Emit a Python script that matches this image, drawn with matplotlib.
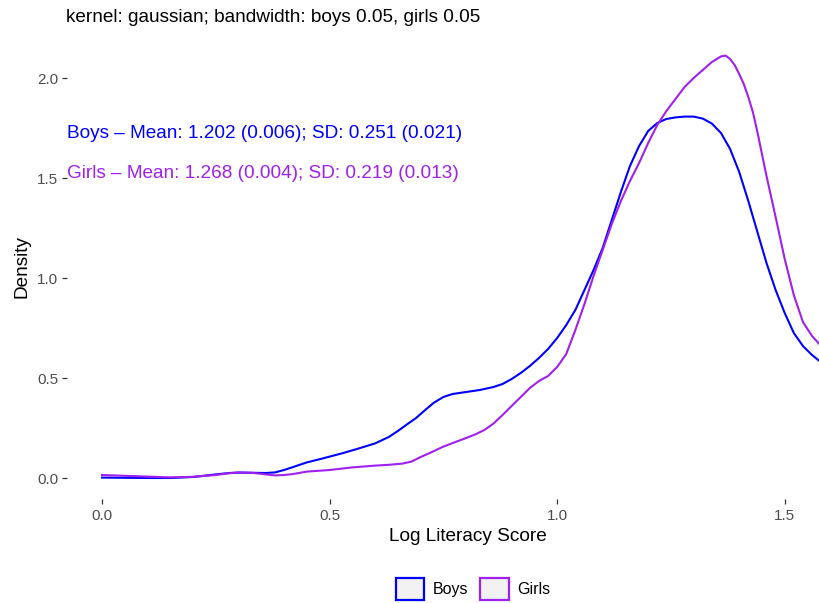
import numpy as np
import matplotlib.pyplot as plt
from matplotlib.patches import Patch

plt.rcParams['font.family'] = ['Liberation Sans', 'DejaVu Sans']

# density curves
boys_x = [0.0, 0.05, 0.1, 0.15, 0.2, 0.25, 0.28, 0.3, 0.33, 0.36, 0.38, 0.40, 0.42, 0.45,
          0.48, 0.5, 0.53, 0.56, 0.6, 0.63, 0.65, 0.67, 0.69, 0.71, 0.73, 0.75, 0.77,
          0.8, 0.83, 0.86, 0.88, 0.9, 0.92, 0.94, 0.96, 0.98, 1.0, 1.02, 1.04, 1.06,
          1.08, 1.1, 1.12, 1.14, 1.16, 1.18, 1.2, 1.22, 1.24, 1.26, 1.28, 1.30, 1.32,
          1.34, 1.36, 1.38, 1.40, 1.42, 1.44, 1.46, 1.48, 1.50, 1.52, 1.54, 1.56,
          1.58, 1.60, 1.62]
boys_y = [0.002, 0.001, 0.0, 0.0, 0.005, 0.018, 0.025, 0.027, 0.026, 0.025, 0.028, 0.04, 0.055, 0.078,
          0.095, 0.107, 0.125, 0.145, 0.173, 0.205, 0.235, 0.268, 0.30, 0.34, 0.378, 0.405, 0.42,
          0.43, 0.44, 0.455, 0.47, 0.495, 0.525, 0.56, 0.60, 0.645, 0.70, 0.765, 0.84, 0.94,
          1.04, 1.15, 1.29, 1.43, 1.56, 1.66, 1.735, 1.775, 1.795, 1.803, 1.807, 1.807, 1.797,
          1.772, 1.725, 1.645, 1.53, 1.385, 1.23, 1.075, 0.94, 0.825, 0.725, 0.66, 0.615,
          0.578, 0.545, 0.51]

girls_x = [0.0, 0.05, 0.1, 0.15, 0.2, 0.25, 0.28, 0.3, 0.33, 0.36, 0.38, 0.40, 0.42, 0.45,
           0.5, 0.55, 0.6, 0.63, 0.66, 0.68, 0.70, 0.72, 0.75, 0.78, 0.8, 0.82, 0.84, 0.86,
           0.88, 0.9, 0.92, 0.94, 0.96, 0.98, 1.0, 1.02, 1.04, 1.06, 1.08, 1.10, 1.12, 1.14,
           1.16, 1.18, 1.20, 1.22, 1.24, 1.26, 1.28, 1.30, 1.32, 1.34, 1.36, 1.37, 1.38,
           1.39, 1.40, 1.41, 1.42, 1.43, 1.44, 1.46, 1.48, 1.50, 1.52, 1.54, 1.56, 1.58,
           1.60, 1.62]
girls_y = [0.015, 0.011, 0.007, 0.003, 0.006, 0.015, 0.024, 0.028, 0.026, 0.018, 0.013, 0.015, 0.02, 0.032,
           0.04, 0.053, 0.062, 0.066, 0.072, 0.082, 0.105, 0.125, 0.157, 0.183, 0.20, 0.218, 0.24, 0.272,
           0.315, 0.36, 0.405, 0.45, 0.485, 0.51, 0.555, 0.62, 0.74, 0.87, 1.01, 1.14, 1.27, 1.385,
           1.485, 1.575, 1.675, 1.765, 1.835, 1.895, 1.955, 2.0, 2.04, 2.08, 2.108, 2.112, 2.095,
           2.065, 2.02, 1.97, 1.905, 1.83, 1.73, 1.51, 1.305, 1.095, 0.915, 0.78, 0.71, 0.66,
           0.615, 0.57]

groups = ['Boys', 'Girls']
colors = ['#0000ff', '#a020f0']
stats = ['Boys \u2013 Mean: 1.202 (0.006); SD: 0.251 (0.021)',
         'Girls \u2013 Mean: 1.268 (0.004); SD: 0.219 (0.013)']
stats_y = [1.72, 1.52]

fig = plt.figure(figsize=(8.2, 6.03), dpi=100)
# panel runs past the right edge of the picture, as in the reference
ax = fig.add_axes([67/820, 1 - 499/603, (868 - 67)/820, (499 - 35)/603])

ax.plot(boys_x, boys_y, color=colors[0], lw=1.5)
ax.plot(girls_x, girls_y, color=colors[1], lw=1.5)

ax.set_xlim(-0.077, 1.683)
ax.set_ylim(-0.105, 2.215)
ax.set_xticks([0.0, 0.5, 1.0, 1.5])
ax.set_yticks([0.0, 0.5, 1.0, 1.5, 2.0])
ax.set_xticklabels(['0.0', '0.5', '1.0', '1.5'])
ax.set_yticklabels(['0.0', '0.5', '1.0', '1.5', '2.0'])
for s in ax.spines.values():
    s.set_visible(False)
ax.tick_params(colors='#333333', labelcolor='#4d4d4d', labelsize=11, length=3.4, width=0.9)
ax.tick_params(axis='x', pad=3.6)
ax.tick_params(axis='y', pad=3)

ax.set_xlabel('Log Literacy Score', fontsize=13.7, labelpad=4)
ax.set_ylabel('Density', fontsize=13.7, labelpad=5)

for txt, yy, c in zip(stats, stats_y, colors):
    ax.text(0.0, yy, txt, color=c, fontsize=13.7, ha='left', va='center',
            transform=ax.get_yaxis_transform())

fig.text(66/820, 1 - 17/603, 'kernel: gaussian; bandwidth: boys 0.05, girls 0.05',
         fontsize=13.7, ha='left', va='center')

handles = [Patch(facecolor='#f2f2f2', edgecolor=c, linewidth=1.6, label=g)
           for g, c in zip(groups, colors)]
fig.legend(handles=handles, loc='center', bbox_to_anchor=(473/820, 1 - 589/603),
           ncol=2, frameon=False, fontsize=11.5, handlelength=1.8, handleheight=1.8,
           columnspacing=0.7, handletextpad=0.55, borderpad=0)

fig.savefig('out.png', dpi=100)
